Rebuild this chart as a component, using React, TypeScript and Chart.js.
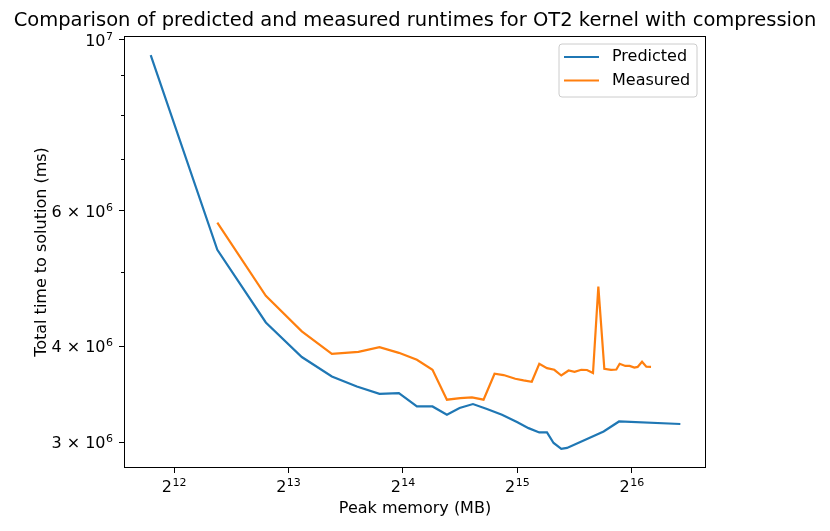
import { useEffect, useRef } from "react";
import { Chart, registerables } from "chart.js";

Chart.register(...registerables);

// peak memory (MB) and total time (ms)
const predictedMemory = [
  3556, 5323, 7140, 8878, 10650, 12391, 14211, 15982, 17824, 19589, 21376, 23077, 25027,
  27242, 29837, 32669, 35046, 37399, 39184, 40783, 42730, 44231, 49926, 55219, 60612, 87870,
];
const predictedTime = [
  9.56e6, 5.338e6, 4.295e6, 3.873e6, 3.654e6, 3.547e6, 3.47e6, 3.477e6, 3.341e6, 3.341e6,
  3.259e6, 3.325e6, 3.365e6, 3.315e6, 3.259e6, 3.188e6, 3.131e6, 3.091e6, 3.091e6, 2.995e6,
  2.942e6, 2.951e6, 3.031e6, 3.1e6, 3.194e6, 3.17e6,
];

const measuredMemory = [
  5323, 7140, 8878, 10650, 12510, 14211, 15982, 17824, 19589, 21376, 23170, 24876, 26688,
  28524, 30129, 32334, 34000, 35734, 37399, 39184, 40957, 42730, 44657, 46311, 48228, 49926,
  51776, 53477, 55453, 57750, 59638, 60842, 62971, 64628, 66500, 67838, 69672, 71508, 73577,
];
const measuredTime = [
  5.792e6, 4.652e6, 4.182e6, 3.911e6, 3.934e6, 3.99e6, 3.922e6, 3.841e6, 3.728e6, 3.409e6,
  3.426e6, 3.432e6, 3.409e6, 3.684e6, 3.67e6, 3.63e6, 3.612e6, 3.597e6, 3.796e6, 3.747e6,
  3.728e6, 3.665e6, 3.72e6, 3.706e6, 3.728e6, 3.726e6, 3.692e6, 4.782e6, 3.739e6, 3.728e6,
  3.731e6, 3.796e6, 3.771e6, 3.771e6, 3.752e6, 3.76e6, 3.819e6, 3.762e6, 3.76e6,
];

// tick values with their labels as [base, exponent]
const xTicks = [4096, 8192, 16384, 32768, 65536];
const xTickLabels = [["2", "12"], ["2", "13"], ["2", "14"], ["2", "15"], ["2", "16"]];
const yTicks = [3e6, 4e6, 6e6, 1e7];
const yTickLabels = [["3 × 10", "6"], ["4 × 10", "6"], ["6 × 10", "6"], ["10", "7"]];
const yMinorTicks = [5e6, 7e6, 8e6, 9e6];

const TITLE = "Comparison of predicted and measured runtimes for OT2 kernel with compression";
const FONT = "'DejaVu Sans', sans-serif";

// draws "base^exp" like matplotlib mathtext, anchored left / center / right
const drawPow = (ctx, base, exp, x, baseline, align) => {
  ctx.font = "16px " + FONT;
  const wb = ctx.measureText(base).width;
  ctx.font = "11px " + FONT;
  const we = ctx.measureText(exp).width;
  const total = wb + we + 0.5;
  let x0 = x;
  if (align === "center") x0 = x - total / 2;
  if (align === "right") x0 = x - total;
  ctx.textAlign = "left";
  ctx.textBaseline = "alphabetic";
  ctx.font = "16px " + FONT;
  ctx.fillText(base, x0, baseline);
  ctx.font = "11px " + FONT;
  ctx.fillText(exp, x0 + wb + 0.5, baseline - 6);
};

// title, box around the axes, tick labels, minor ticks and the legend inside the plot
const framePlugin = {
  id: "frame",
  afterDraw(chart) {
    const { ctx, chartArea: a } = chart;
    const xs = chart.scales.x;
    const ys = chart.scales.y;
    ctx.save();
    ctx.fillStyle = "#000";
    ctx.font = "19.5px " + FONT;
    ctx.textAlign = "center";
    ctx.textBaseline = "alphabetic";
    ctx.fillText(TITLE, (a.left + a.right) / 2, a.top - 9.6);

    ctx.strokeStyle = "#000";
    ctx.lineWidth = 1;
    ctx.strokeRect(a.left + 0.5, a.top + 0.5, a.right - a.left - 1, a.bottom - a.top - 1);
    yMinorTicks.forEach((v) => {
      const py = Math.round(ys.getPixelForValue(v)) + 0.5;
      ctx.beginPath();
      ctx.moveTo(a.left - 3, py);
      ctx.lineTo(a.left, py);
      ctx.stroke();
    });

    xTicks.forEach((v, i) => {
      drawPow(ctx, xTickLabels[i][0], xTickLabels[i][1], xs.getPixelForValue(v), a.bottom + 23.7, "center");
    });
    yTicks.forEach((v, i) => {
      drawPow(ctx, yTickLabels[i][0], yTickLabels[i][1], a.left - 11, ys.getPixelForValue(v) + 6, "right");
    });

    // legend
    const w = 138;
    const h = 53;
    const bx = a.right - 9 - w;
    const by = a.top + 8;
    ctx.beginPath();
    ctx.roundRect(bx, by, w, h, 3);
    ctx.fillStyle = "rgba(255,255,255,0.8)";
    ctx.fill();
    ctx.strokeStyle = "#cccccc";
    ctx.stroke();
    ctx.font = "16px " + FONT;
    ctx.textAlign = "left";
    ctx.textBaseline = "middle";
    chart.data.datasets.forEach((ds, i) => {
      const ly = by + 13 + i * 23.5;
      ctx.strokeStyle = ds.borderColor;
      ctx.lineWidth = 2.2;
      ctx.beginPath();
      ctx.moveTo(bx + 5, ly);
      ctx.lineTo(bx + 40, ly);
      ctx.stroke();
      ctx.fillStyle = "#000";
      ctx.fillText(ds.label, bx + 53, ly);
    });
    ctx.restore();
  },
};

const App = () => {
  const chartRef = useRef(null);
  const chartInstance = useRef(null);

  useEffect(() => {
    const myChartRef = chartRef.current.getContext("2d");

    if (chartInstance.current) {
      chartInstance.current.destroy();
    }

    Chart.defaults.color = "#000";
    Chart.defaults.font.family = FONT;

    chartInstance.current = new Chart(myChartRef, {
      type: "line",
      data: {
        datasets: [
          {
            label: "Predicted",
            data: predictedMemory.map((m, i) => ({ x: m, y: predictedTime[i] })),
            borderColor: "#1f77b4",
            backgroundColor: "#1f77b4",
            borderWidth: 2.2,
            pointRadius: 0,
            tension: 0,
            fill: false,
          },
          {
            label: "Measured",
            data: measuredMemory.map((m, i) => ({ x: m, y: measuredTime[i] })),
            borderColor: "#ff7f0e",
            backgroundColor: "#ff7f0e",
            borderWidth: 2.2,
            pointRadius: 0,
            tension: 0,
            fill: false,
          },
        ],
      },
      options: {
        animation: false,
        responsive: true,
        maintainAspectRatio: false,
        layout: {
          padding: { left: 0, right: 124, top: 36, bottom: 0 },
        },
        plugins: {
          legend: { display: false },
          tooltip: { enabled: false },
          title: { display: false },
        },
        scales: {
          x: {
            type: "logarithmic",
            min: 3025,
            max: 102634,
            afterFit: (scale) => {
              scale.height = 63;
            },
            afterBuildTicks: (scale) => {
              scale.ticks = xTicks.map((v) => ({ value: v }));
            },
            ticks: {
              autoSkip: false,
              maxRotation: 0,
              callback: () => "",
            },
            grid: {
              drawOnChartArea: false,
              tickLength: 5,
              tickColor: "#000",
            },
            border: { display: false },
            title: {
              display: true,
              text: "Peak memory (MB)",
              font: { size: 16 },
              padding: { top: 0, bottom: 12.4 },
            },
          },
          y: {
            type: "logarithmic",
            min: 2.779e6,
            max: 1.012e7,
            afterFit: (scale) => {
              scale.width = 124;
            },
            afterBuildTicks: (scale) => {
              scale.ticks = yTicks.map((v) => ({ value: v }));
            },
            ticks: {
              autoSkip: false,
              callback: () => "",
            },
            grid: {
              drawOnChartArea: false,
              tickLength: 5,
              tickColor: "#000",
            },
            border: { display: false },
            title: {
              display: true,
              text: "Total time to solution (ms)",
              font: { size: 16 },
              padding: { top: 32, bottom: 0 },
            },
          },
        },
      },
      plugins: [framePlugin],
    });

    return () => {
      if (chartInstance.current) {
        chartInstance.current.destroy();
      }
    };
  }, []);

  return (
    <div style={{ position: "absolute", left: 0, top: 0, width: 830, height: 531, background: "#fff" }}>
      <canvas ref={chartRef}></canvas>
    </div>
  );
};

export default App;
